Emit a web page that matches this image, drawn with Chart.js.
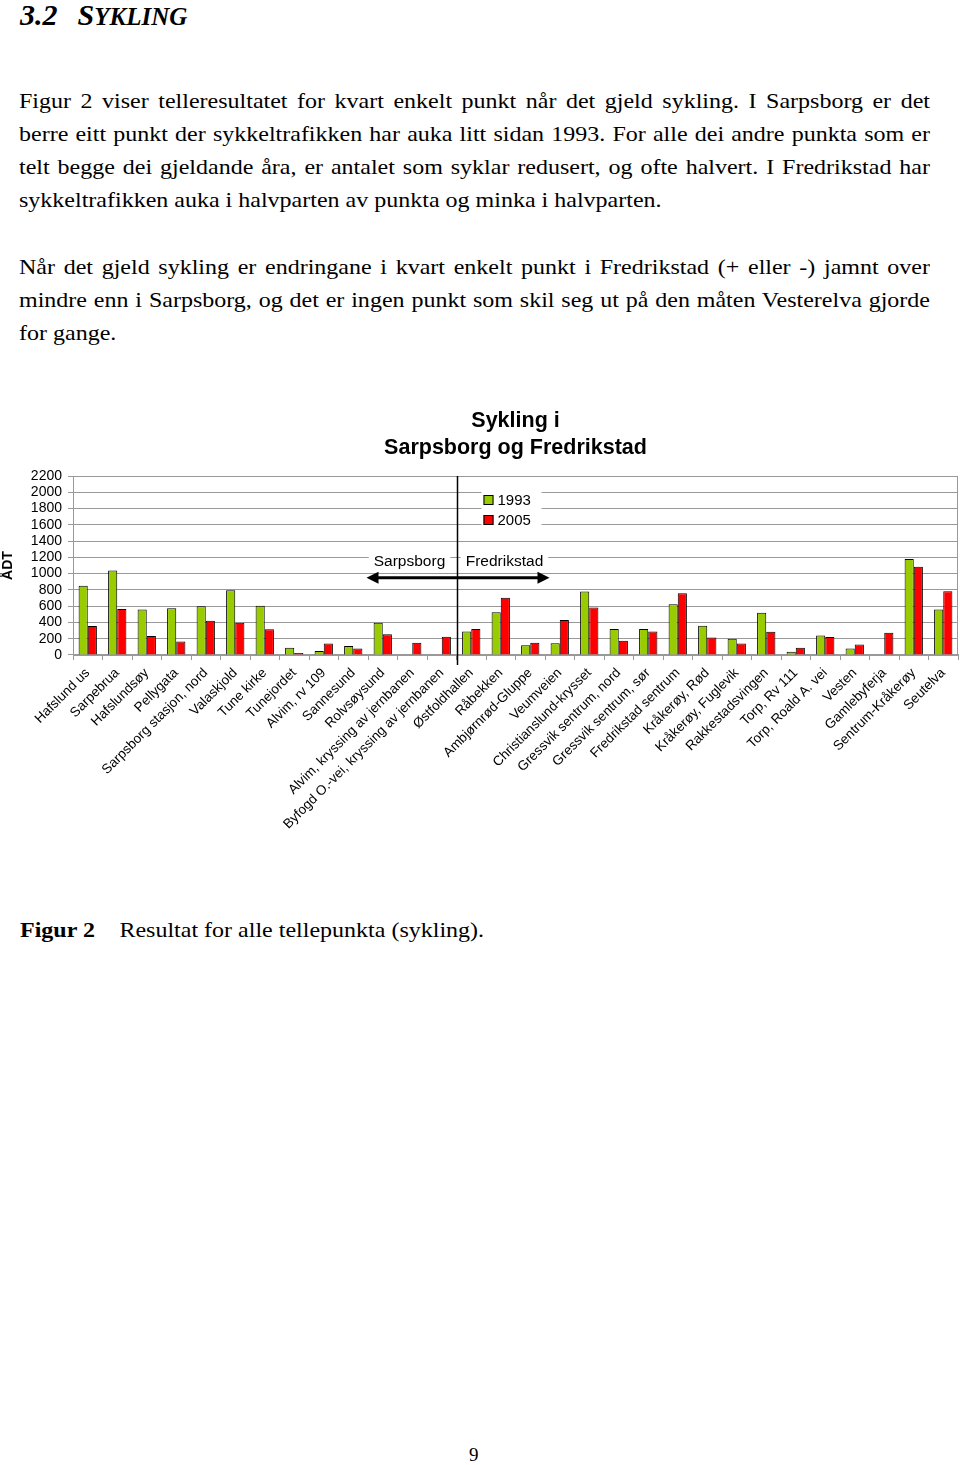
<!DOCTYPE html>
<html>
<head>
<meta charset="utf-8">
<script src="https://cdn.jsdelivr.net/npm/chart.js@4.4.1/dist/chart.umd.min.js"></script>
<style>
body { margin: 0; background: #fff; width: 960px; height: 1465px; position: relative; font-family: "Liberation Serif", "Times New Roman", serif; color: #000; overflow: hidden; }
.heading { position: absolute; left: 20px; top: 0px; font-size: 30px; line-height: 30px; font-weight: bold; font-style: italic; white-space: nowrap; }
.heading .t { margin-left: 20px; }
.heading .sc { font-size: 25px; }
.para { position: absolute; left: 19px; width: 797px; margin: 0; font-size: 21px; line-height: 33px; transform: scaleX(1.143); transform-origin: 0 0; }
.para span { display: block; white-space: nowrap; text-align: justify; text-align-last: justify; }
.para span.last { text-align: left; text-align-last: left; }
.caption { position: absolute; left: 20px; top: 914px; font-size: 21px; line-height: 33px; white-space: nowrap; transform: scaleX(1.143); transform-origin: 0 0; }
.caption .txt { position: absolute; left: 87px; top: 0; }
.pagenum { position: absolute; left: 469px; top: 1443px; font-size: 19px; line-height: 24px; }
#wrap { position: absolute; left: 0; top: 400px; width: 960px; height: 450px; }
</style>
</head>
<body>
<div class="heading">3.2<span class="t">S<span class="sc">YKLING</span></span></div>
<p class="para" style="top:85px">
<span>Figur 2 viser telleresultatet for kvart enkelt punkt når det gjeld sykling. I Sarpsborg er det</span>
<span>berre eitt punkt der sykkeltrafikken har auka litt sidan 1993. For alle dei andre punkta som er</span>
<span>telt begge dei gjeldande åra, er antalet som syklar redusert, og ofte halvert. I Fredrikstad har</span>
<span class="last">sykkeltrafikken auka i halvparten av punkta og minka i halvparten.</span>
</p>
<p class="para" style="top:251px">
<span>Når det gjeld sykling er endringane i kvart enkelt punkt i Fredrikstad (+ eller -) jamnt over</span>
<span>mindre enn i Sarpsborg, og det er ingen punkt som skil seg ut på den måten Vesterelva gjorde</span>
<span class="last">for gange.</span>
</p>

<div id="wrap"><canvas id="chart" width="960" height="450"></canvas></div>

<div class="caption"><b>Figur 2</b><span class="txt">Resultat for alle tellepunkta (sykling).</span></div>
<div class="pagenum">9</div>

<script>
// counting points (Sarpsborg first, then Fredrikstad)
const labels = [
  'Hafslund us', 'Sarpebrua', 'Hafslundsøy', 'Pellygata', 'Sarpsborg stasjon, nord',
  'Valaskjold', 'Tune kirke', 'Tunejordet', 'Alvim, rv 109', 'Sannesund',
  'Rolvsøysund', 'Alvim, kryssing av jernbanen', 'Byfogd O.-vei, kryssing av jernbanen',
  'Østfoldhallen', 'Råbekken', 'Ambjørnrød-Gluppe', 'Veumveien', 'Christianslund-krysset',
  'Gressvik sentrum, nord', 'Gressvik sentrum, sør', 'Fredrikstad sentrum', 'Kråkerøy, Rød',
  'Kråkerøy, Fuglevik', 'Rakkestadsvingen', 'Torp, Rv 111', 'Torp, Roald A. vei',
  'Vesten', 'Gamlebyferja', 'Sentrum-Kråkerøy', 'Seutelva'
];
const values1993 = [850, 1040, 560, 575, 600, 795, 605, 90, 50, 110, 395, null, null,
  290, 525, 120, 145, 780, 320, 320, 625, 360, 200, 520, 40, 240, 80, null, 1180, 560];
const values2005 = [355, 565, 235, 165, 420, 395, 315, 25, 140, 80, 255, 150, 225,
  320, 705, 150, 430, 585, 175, 290, 760, 215, 140, 285, 90, 220, 130, 275, 1085, 785];
const yearLabels = ['1993', '2005'];
const yTicks = { min: 0, max: 2200, step: 200 };
const firstFredrikstad = 13; // index of Østfoldhallen
const chartTitle = ['Sykling i', 'Sarpsborg og Fredrikstad'];

Chart.defaults.font.family = '"Liberation Sans", Arial, sans-serif';
Chart.defaults.color = '#000';

// divider, arrow, town names and legend drawn on top of the plot
const extras = {
  id: 'extras',
  beforeDatasetsDraw(chart) {
    const { ctx, chartArea: a } = chart;
    ctx.save();
    ctx.strokeStyle = '#999';
    ctx.lineWidth = 1;
    ctx.strokeRect(a.left + 0.5, a.top + 0.5, a.width - 1, a.height);
    ctx.restore();
  },
  afterDraw(chart) {
    const { ctx, chartArea: a, scales: { x, y } } = chart;
    const divX = Math.round((x.getPixelForValue(firstFredrikstad - 1) + x.getPixelForValue(firstFredrikstad)) / 2) + 0.5;
    ctx.save();

    // vertical divider
    ctx.strokeStyle = '#000';
    ctx.lineWidth = 1.5;
    ctx.beginPath();
    ctx.moveTo(divX, a.top);
    ctx.lineTo(divX, a.bottom + 10);
    ctx.stroke();

    // town names
    ctx.font = '15.5px "Liberation Sans", Arial, sans-serif';
    ctx.textAlign = 'center';
    ctx.textBaseline = 'middle';
    const ty = y.getPixelForValue(1150);
    [['Sarpsborg', divX - 48], ['Fredrikstad', divX + 47]].forEach(([t, cx]) => {
      const w = ctx.measureText(t).width + 10;
      ctx.fillStyle = '#fff';
      ctx.fillRect(cx - w / 2, ty - 10, w, 20);
      ctx.fillStyle = '#000';
      ctx.fillText(t, cx, ty);
    });

    // double arrow
    const ay = y.getPixelForValue(950);
    const x0 = divX - 91, x1 = divX + 92;
    ctx.strokeStyle = '#000';
    ctx.lineWidth = 3;
    ctx.beginPath();
    ctx.moveTo(x0 + 8, ay);
    ctx.lineTo(x1 - 8, ay);
    ctx.stroke();
    ctx.fillStyle = '#000';
    ctx.beginPath();
    ctx.moveTo(x0, ay); ctx.lineTo(x0 + 12, ay - 6); ctx.lineTo(x0 + 12, ay + 6); ctx.closePath();
    ctx.fill();
    ctx.beginPath();
    ctx.moveTo(x1, ay); ctx.lineTo(x1 - 12, ay - 6); ctx.lineTo(x1 - 12, ay + 6); ctx.closePath();
    ctx.fill();

    // legend
    ctx.font = '15px "Liberation Sans", Arial, sans-serif';
    const lx = divX + 24, ly = a.top + 14;
    ctx.fillStyle = '#fff';
    ctx.fillRect(lx, ly, 60, 42);
    ctx.textAlign = 'left';
    chart.data.datasets.forEach((ds, i) => {
      const cy = ly + 10 + i * 20;
      ctx.fillStyle = ds.backgroundColor;
      ctx.fillRect(lx + 2, cy - 5, 10, 10);
      ctx.strokeStyle = '#000';
      ctx.lineWidth = 1;
      ctx.strokeRect(lx + 2.5, cy - 4.5, 9, 9);
      ctx.fillStyle = '#000';
      ctx.fillText(ds.label, lx + 16, cy + 1);
    });
    ctx.restore();
  }
};

new Chart(document.getElementById('chart'), {
  type: 'bar',
  data: {
    labels: labels,
    datasets: [
      { label: yearLabels[0], data: values1993, backgroundColor: '#99CC00', borderColor: '#000', borderWidth: 1 },
      { label: yearLabels[1], data: values2005, backgroundColor: '#FF0000', borderColor: '#000', borderWidth: 1 }
    ]
  },
  options: {
    responsive: false,
    animation: false,
    layout: { padding: { left: 0, right: 2, top: 0, bottom: 0 } },
    datasets: { bar: { categoryPercentage: 0.62, barPercentage: 1 } },
    plugins: {
      legend: { display: false },
      tooltip: { enabled: false },
      title: {
        display: true,
        text: chartTitle,
        fullSize: false,
        color: '#000',
        font: { size: 21.5, weight: 'bold', lineHeight: 1.256 },
        padding: { top: 7.5, bottom: 14.5 }
      }
    },
    scales: {
      x: {
        afterFit(scale) { scale.height = 195; },
        grid: { offset: true, drawOnChartArea: false, color: '#999', tickLength: 5 },
        border: { color: '#999' },
        ticks: { autoSkip: false, minRotation: 45, maxRotation: 45, font: { size: 13.5 }, color: '#000', padding: 5 }
      },
      y: {
        min: yTicks.min,
        max: yTicks.max,
        afterFit(scale) { scale.width = 73; },
        grid: { color: '#999', tickLength: 5 },
        border: { color: '#999' },
        ticks: { stepSize: yTicks.step, autoSkip: false, font: { size: 14 }, color: '#000', padding: 6,
          callback: v => String(v) },
        title: { display: true, text: 'ÅDT', font: { size: 14, weight: 'bold' }, padding: 0 }
      }
    }
  },
  plugins: [extras]
});
</script>
</body>
</html>
